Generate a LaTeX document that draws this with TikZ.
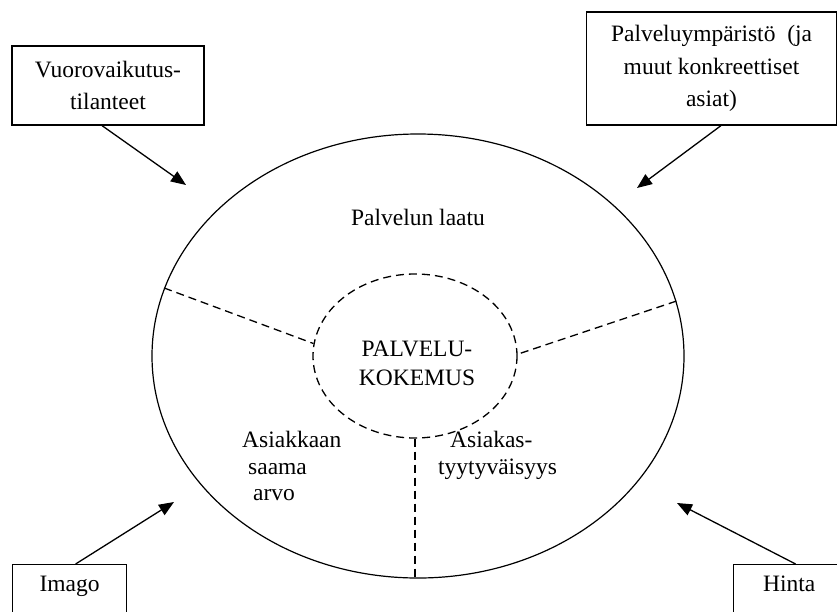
\documentclass[tikz,border=0pt]{standalone}
\usepackage{fontspec}
\setmainfont{Liberation Serif}
\usetikzlibrary{arrows.meta,shapes.geometric}
\begin{document}
\begin{tikzpicture}[x=1pt,y=-1pt,
  every node/.style={font=\fontsize{23.5}{26.5}\selectfont, inner sep=0pt},
  box/.style={draw, line width=1.2pt, align=center, font=\fontsize{23.5}{32.5}\selectfont},
  arr/.style={-{Triangle[length=15pt,width=12pt]}, line width=1.3pt},
  dsh/.style={draw, dash pattern=on 8pt off 5pt, line width=1.3pt},
]
\clip (0,0) rectangle (837,611);
\fill[white] (0,0) rectangle (837,611);

% ellipses
\node[draw, ellipse, line width=1.2pt, minimum width=532pt, minimum height=444pt] (outer) at (418,356) {};
\node[ellipse, dsh, minimum width=204pt, minimum height=164pt] (inner) at (415,356) {};

% texts inside
\node[align=center, font=\fontsize{23.5}{29}\selectfont] (kok) at (417,363.5) {PALVELU-\\KOKEMUS};
\node[anchor=base] (laatu) at (418,225) {Palvelun laatu};
\node[anchor=north west, align=left] (arvo) at (242,431) {Asiakkaan\\\hspace*{6pt}saama\\\hspace*{11pt}arvo};
\node[anchor=north west, align=left] (tyyt) at (438,431) {\hspace*{12pt}Asiakas-\\tyytyväisyys};

% dividers
\draw[dsh] (outer.165.8) -- (inner.173.2);
\draw[dsh] (outer.12.25) -- (inner.1.68);
\draw[dsh] (inner.south) -- (inner.south |- outer.south);

% boxes
\node[box, minimum width=192pt, minimum height=79pt] (tl) at (108,85.5) {Vuorovaikutus-\\tilanteet};
\node[box, minimum width=250pt, minimum height=113pt] (tr) at (711.5,68.5) {Palveluympäristö\ \ (ja\\muut konkreettiset\\asiat)};
\node[box, anchor=north west, minimum width=114pt, text height=27pt, text depth=60pt] (im) at (12,564) {Imago};
\node[box, anchor=north west, minimum width=111.4pt, text height=27pt, text depth=60pt] (hi) at (733,564) {Hinta};

% arrow targets
\coordinate (a1) at (186,185);
\coordinate (a2) at (637,188);
\coordinate (a3) at (174,502);
\coordinate (a4) at (677,503);

\draw[arr] ([xshift=-6pt]tl.south) -- (a1);
\draw[arr] ([xshift=9.5pt]tr.south) -- (a2);
\draw[arr] ([xshift=6pt]im.north) -- (a3);
\draw[arr] ([xshift=6.3pt]hi.north) -- (a4);
\end{tikzpicture}
\end{document}
